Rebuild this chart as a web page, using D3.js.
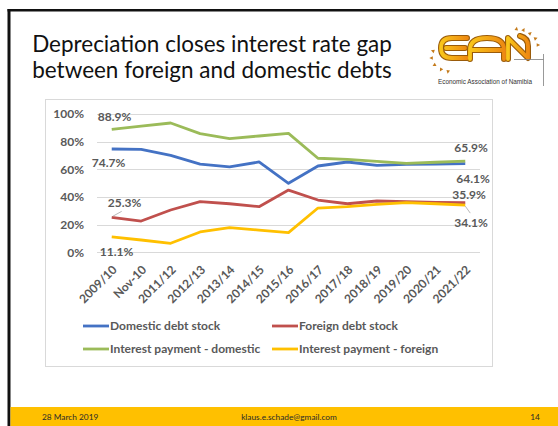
<!DOCTYPE html>
<html>
<head>
<meta charset="utf-8">
<script src="https://cdn.jsdelivr.net/npm/d3@7"></script>
<style>
  html, body { margin: 0; padding: 0; background: #fff; }
  svg { display: block; }
</style>
</head>
<body>
<svg id="slide" width="558" height="426"></svg>
<script>
// ---- data ----
const categories = ["2009/10","Nov-10","2011/12","2012/13","2013/14","2014/15","2015/16",
                    "2016/17","2017/18","2018/19","2019/20","2020/21","2021/22"];
const domesticDebtStock   = [74.7, 74.4, 70.1, 63.8, 61.7, 65.3, 49.9, 62.4, 65.3, 62.9, 63.6, 63.8, 64.1];
const foreignDebtStock    = [25.3, 22.6, 30.6, 36.6, 35.1, 33.0, 45.0, 37.8, 35.1, 37.1, 36.6, 36.1, 35.9];
const interestDomestic    = [88.9, 91.3, 93.5, 85.8, 82.2, 84.1, 86.0, 68.0, 67.2, 65.8, 64.3, 65.1, 65.9];
const interestForeign     = [11.1, 8.9, 6.5, 14.7, 17.8, 16.1, 14.2, 32.0, 33.0, 34.7, 35.9, 35.1, 34.1];
const yTicks = [0, 20, 40, 60, 80, 100];
const seriesNames = ["Domestic debt stock", "Foreign debt stock",
                     "Interest payment - domestic", "Interest payment - foreign"];
const titleLines = ["Depreciation closes interest rate gap", "between foreign and domestic debts"];
const footerDate = "28 March 2019";
const footerMail = "klaus.e.schade@gmail.com";
const footerPage = "14";
const logoCaption = "Economic Association of Namibia";

const series = [
  { name: seriesNames[0], values: domesticDebtStock, color: "#4472C4" },
  { name: seriesNames[1], values: foreignDebtStock,  color: "#C0504D" },
  { name: seriesNames[2], values: interestDomestic,  color: "#9BBB59" },
  { name: seriesNames[3], values: interestForeign,   color: "#FFC000" }
];

const svg = d3.select("#slide");
const grey = "#595959";
const labelFont = "Lato, 'Open Sans', sans-serif";

// ---- slide frame ----
svg.append("rect").attr("x", 0).attr("y", 0).attr("width", 558).attr("height", 426).attr("fill", "#fff");
svg.append("rect").attr("x", 7.5).attr("y", 9).attr("width", 551).attr("height", 2.5).attr("fill", "#111");
svg.append("rect").attr("x", 7.5).attr("y", 9).attr("width", 3).attr("height", 417).attr("fill", "#111");

// footer band
svg.append("rect").attr("x", 10.5).attr("y", 407).attr("width", 548).attr("height", 19).attr("fill", "#FFC000");
const foot = svg.append("g").attr("font-family", "Lato, 'Open Sans', sans-serif")
  .attr("font-size", 8.3).attr("fill", "#2a2a2a");
foot.append("text").attr("x", 42).attr("y", 419.5).text(footerDate);
foot.append("text").attr("x", 289).attr("y", 419.5).attr("text-anchor", "middle").text(footerMail);
foot.append("text").attr("x", 535).attr("y", 419.5).attr("text-anchor", "middle").text(footerPage);

// ---- title ----
const title = svg.append("g").attr("font-family", "Lato, 'Open Sans', sans-serif").attr("fill", "#111");
const t1 = title.append("text").attr("x", 212).attr("y", 51.5).attr("text-anchor", "middle").attr("font-size", 23).text(titleLines[0]);
const t2 = title.append("text").attr("x", 212).attr("y", 77.5).attr("text-anchor", "middle").attr("font-size", 23).text(titleLines[1]);
// scale the title so the first line spans its column
const w1 = t1.node().getComputedTextLength();
const fs = 23 * 360 / w1;
t1.attr("font-size", fs);
t2.attr("font-size", fs);

// ---- logo ----
const logo = svg.append("g").attr("class", "logo");
const defs = svg.append("defs");
const grad = defs.append("linearGradient").attr("id", "logoGrad")
  .attr("x1", 0).attr("y1", 0).attr("x2", 1).attr("y2", 0);
grad.append("stop").attr("offset", "0%").attr("stop-color", "#F9C51A");
grad.append("stop").attr("offset", "100%").attr("stop-color", "#EE8A12");

const letterPaths = [
  // E
  "M467,38 L452,38 Q441,38 441,48 Q441,58 452,58 L467,58 M446,48 L465,48",
  // A
  "M470,59 L470,50 Q470,38 487,38 Q504,38 504,50 L504,59 M472,50 L502,50",
  // N
  "M508,59 L508,38 L528,58 L528,46 Q528,38 520,36"
];
letterPaths.forEach(p => {
  logo.append("path").attr("d", p).attr("fill", "none").attr("stroke", "#9A5B0A")
    .attr("stroke-width", 6).attr("stroke-linecap", "round").attr("stroke-linejoin", "round");
});
letterPaths.forEach(p => {
  logo.append("path").attr("d", p).attr("fill", "none").attr("stroke", "url(#logoGrad)")
    .attr("stroke-width", 3.8).attr("stroke-linecap", "round").attr("stroke-linejoin", "round");
});
// sun rays
const rays = [[433, 51, 200], [431.5, 58, 180], [434.5, 65, 150], [441, 69.5, 120], [448, 71.5, 100],
              [516.5, 29, 280], [523.5, 30, 300], [530, 33.5, 320], [535.5, 38.5, 340], [538, 45, 0]];
rays.forEach(([cx, cy, ang]) => {
  logo.append("path").attr("d", "M-1.8,1.3 L1.8,1.3 L0,-2.2")
    .attr("transform", `translate(${cx},${cy}) rotate(${ang - 270})`)
    .attr("fill", "#C47A1A");
});
logo.append("path").attr("d", "M514,59.5 L543.5,59.5 M543.5,54 L543.5,86")
  .attr("stroke", "#7f7f7f").attr("stroke-width", 0.8).attr("fill", "none");
logo.append("text").attr("x", 438).attr("y", 83.5)
  .attr("font-family", "'Liberation Sans Narrow', 'Liberation Sans', sans-serif")
  .attr("font-size", 6.4).attr("fill", "#333")
  .attr("textLength", 94).attr("lengthAdjust", "spacingAndGlyphs").text(logoCaption);

// ---- chart box ----
svg.append("rect").attr("x", 45.5).attr("y", 99.5).attr("width", 447).attr("height", 267)
  .attr("fill", "#fff").attr("stroke", "#D9D9D9").attr("stroke-width", 1);

const plotLeft = 97, plotRight = 480;
const x = d3.scalePoint().domain(categories).range([plotLeft, plotRight]).padding(0.5);
const y = d3.scaleLinear().domain([0, 100]).range([252.3, 114]);

// gridlines
svg.append("g").selectAll("line").data(yTicks).join("line")
  .attr("x1", plotLeft).attr("x2", plotRight)
  .attr("y1", d => Math.round(y(d)) + 0.5).attr("y2", d => Math.round(y(d)) + 0.5)
  .attr("stroke", "#D9D9D9").attr("stroke-width", 1);

// y axis labels
const yAxis = d3.axisLeft(y).tickValues(yTicks).tickFormat(d => d + "%").tickSize(0).tickPadding(0);
const yg = svg.append("g").attr("transform", "translate(84,0)").call(yAxis);
yg.select(".domain").remove();
yg.selectAll("text").attr("font-family", labelFont).attr("font-weight", "bold")
  .attr("font-size", 12).attr("fill", grey);

// x axis labels, rotated
const xAxis = d3.axisBottom(x).tickSize(0).tickPadding(0);
const xg = svg.append("g").attr("transform", "translate(0,262)").call(xAxis);
xg.select(".domain").remove();
xg.selectAll("text")
  .attr("font-family", labelFont).attr("font-weight", "bold").attr("font-size", 12).attr("fill", grey)
  .attr("text-anchor", "end").attr("dy", "0.35em").attr("y", 0)
  .attr("transform", "translate(2.5,5.5) rotate(-45)");

// lines
const line = d3.line().x((d, i) => x(categories[i])).y(d => y(d));
svg.append("g").selectAll("path").data(series).join("path")
  .attr("d", s => line(s.values))
  .attr("fill", "none").attr("stroke", s => s.color).attr("stroke-width", 2.8)
  .attr("stroke-linejoin", "round");

// data labels at first and last points
const last = categories.length - 1;
const labels = [
  { s: 2, i: 0,    dx: -14, dy: -13, anchor: "start" },
  { s: 0, i: 0,    dx: -20, dy: 14,  anchor: "start" },
  { s: 1, i: 0,    dx: -4,  dy: -15, anchor: "start" },
  { s: 3, i: 0,    dx: -12, dy: 15,  anchor: "start" },
  { s: 2, i: last, dx: -11, dy: -13, anchor: "start" },
  { s: 0, i: last, dx: -9,  dy: 15,  anchor: "start" },
  { s: 1, i: last, dx: -13, dy: -8,  anchor: "start" },
  { s: 3, i: last, dx: -11, dy: 18,  anchor: "start" }
];
const fmt = d3.format(".1f");
svg.append("g").selectAll("text").data(labels).join("text")
  .attr("x", d => x(categories[d.i]) + d.dx)
  .attr("y", d => y(series[d.s].values[d.i]) + d.dy)
  .attr("dy", "0.35em")
  .attr("text-anchor", d => d.anchor)
  .attr("font-family", labelFont).attr("font-weight", "bold").attr("font-size", 12).attr("fill", grey)
  .text(d => fmt(series[d.s].values[d.i]) + "%");

// leader lines
const leaders = [
  { s: 1, i: 0,    x1: 1, y1: -1, x2: 10, y2: -6 },
  { s: 3, i: last, x1: 0, y1: 1,  x2: 5,  y2: 8 }
];
svg.append("g").selectAll("line").data(leaders).join("line")
  .attr("x1", d => x(categories[d.i]) + d.x1).attr("y1", d => y(series[d.s].values[d.i]) + d.y1)
  .attr("x2", d => x(categories[d.i]) + d.x2).attr("y2", d => y(series[d.s].values[d.i]) + d.y2)
  .attr("stroke", "#A6A6A6").attr("stroke-width", 0.8);

// legend
const legendPos = [[83, 326], [272, 326], [83, 349], [272, 349]];
const lg = svg.append("g").selectAll("g").data(series).join("g")
  .attr("transform", (d, i) => `translate(${legendPos[i][0]},${legendPos[i][1]})`);
lg.append("line").attr("x1", 0).attr("x2", 26).attr("y1", 0).attr("y2", 0)
  .attr("stroke", d => d.color).attr("stroke-width", 2.8);
lg.append("text").attr("x", 27).attr("y", 0).attr("dy", "0.35em")
  .attr("font-family", labelFont).attr("font-weight", "bold").attr("font-size", 12).attr("fill", grey)
  .text(d => d.name);
</script>
</body>
</html>
